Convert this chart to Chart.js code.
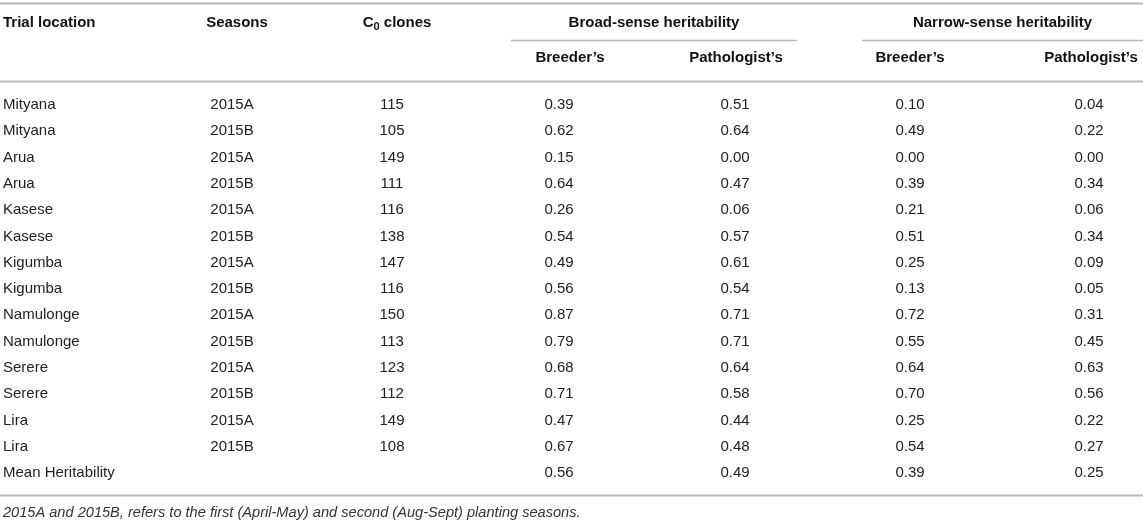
<!DOCTYPE html>
<html>
<head>
<meta charset="utf-8">
<script src="https://cdn.jsdelivr.net/npm/chart.js@4.4.1/dist/chart.umd.min.js"></script>
<style>
    html, body { margin: 0; padding: 0; background: #fff; }
    #box { width: 1143px; height: 522px; position: relative; }
</style>
</head>
<body>
<div id="box"><canvas id="tableChart"></canvas></div>
<script>
// table data
const locations = ['Mityana', 'Mityana', 'Arua', 'Arua', 'Kasese', 'Kasese', 'Kigumba', 'Kigumba',
    'Namulonge', 'Namulonge', 'Serere', 'Serere', 'Lira', 'Lira'];
const seasons = ['2015A', '2015B', '2015A', '2015B', '2015A', '2015B', '2015A', '2015B',
    '2015A', '2015B', '2015A', '2015B', '2015A', '2015B'];
const clones = [115, 105, 149, 111, 116, 138, 147, 116, 150, 113, 123, 112, 149, 108];
const broadBreeder = [0.39, 0.62, 0.15, 0.64, 0.26, 0.54, 0.49, 0.56, 0.87, 0.79, 0.68, 0.71, 0.47, 0.67];
const broadPathologist = [0.51, 0.64, 0.00, 0.47, 0.06, 0.57, 0.61, 0.54, 0.71, 0.71, 0.64, 0.58, 0.44, 0.48];
const narrowBreeder = [0.10, 0.49, 0.00, 0.39, 0.21, 0.51, 0.25, 0.13, 0.72, 0.55, 0.64, 0.70, 0.25, 0.54];
const narrowPathologist = [0.04, 0.22, 0.00, 0.34, 0.06, 0.34, 0.09, 0.05, 0.31, 0.45, 0.63, 0.56, 0.22, 0.27];
const meanLabel = 'Mean Heritability';
const meanHeritability = [0.56, 0.49, 0.39, 0.25];

const headerTop = ['Trial location', 'Seasons', 'C0 clones'];
const groupHeaders = ['Broad-sense heritability', 'Narrow-sense heritability'];
const subHeaders = ['Breeder\u2019s', 'Pathologist\u2019s', 'Breeder\u2019s', 'Pathologist\u2019s'];
const footnote = '2015A and 2015B, refers to the first (April-May) and second (Aug-Sept) planting seasons.';

// layout (x in px along the hidden x scale, y in row units)
const colX = [3, 232, 392, 559, 735, 910, 1089];
const headX = [3, 237, 397, 570, 736, 910, 1091];
const groupSpan = [[511, 797], [862, 1143]];
const yTopLine = -3.88, yHead1 = -3.12, yGroupLine = -2.47, yHead2 = -1.79, yHeadLine = -0.91;
const yBottomLine = 14.83, yNote = 15.52;

const FONT = '"Liberation Sans", Arial, Helvetica, sans-serif';

// every column becomes a dataset of invisible points, one per row
const columns = [
    locations.concat([meanLabel]),
    seasons,
    clones,
    broadBreeder.concat([meanHeritability[0]]),
    broadPathologist.concat([meanHeritability[1]]),
    narrowBreeder.concat([meanHeritability[2]]),
    narrowPathologist.concat([meanHeritability[3]])
];

const datasets = columns.map((col, c) => ({
    label: 'col' + c,
    data: col.map((v, r) => ({ x: colX[c], y: r })),
    cellText: col.map(v => (typeof v === 'number' && c > 2) ? v.toFixed(2) : String(v)),
    pointRadius: 0,
    pointHoverRadius: 0
}));

const tablePlugin = {
    id: 'tablePlugin',
    afterDraw(chart) {
        const ctx = chart.ctx;
        const xs = chart.scales.x, ys = chart.scales.y;
        const X = v => xs.getPixelForValue(v);
        const Y = v => ys.getPixelForValue(v);

        ctx.save();

        // rules
        const hline = (x0, x1, y, w) => {
            ctx.beginPath();
            ctx.strokeStyle = '#b8b8b8';
            ctx.lineWidth = w;
            ctx.moveTo(x0, Math.round(y) + 0.5);
            ctx.lineTo(x1, Math.round(y) + 0.5);
            ctx.stroke();
        };
        hline(X(0), X(1143), Y(yTopLine), 2);
        groupSpan.forEach(s => hline(X(s[0]), X(s[1]), Y(yGroupLine), 1.5));
        hline(X(0), X(1143), Y(yHeadLine), 2);
        hline(X(0), X(1143), Y(yBottomLine), 2);

        // headers
        ctx.fillStyle = '#111';
        ctx.textBaseline = 'middle';
        ctx.font = 'bold 15px ' + FONT;
        ctx.textAlign = 'left';
        ctx.fillText(headerTop[0], X(headX[0]), Y(yHead1));
        ctx.textAlign = 'center';
        ctx.fillText(headerTop[1], X(headX[1]), Y(yHead1));

        // C0 clones with subscript
        const main = 'C', sub = '0', rest = ' clones';
        const wMain = ctx.measureText(main).width;
        const wRest = ctx.measureText(rest).width;
        ctx.font = 'bold 11px ' + FONT;
        const wSub = ctx.measureText(sub).width;
        let sx = X(headX[2]) - (wMain + wSub + wRest) / 2;
        ctx.textAlign = 'left';
        ctx.font = 'bold 15px ' + FONT;
        ctx.fillText(main, sx, Y(yHead1));
        ctx.font = 'bold 11px ' + FONT;
        ctx.fillText(sub, sx + wMain, Y(yHead1) + 4);
        ctx.font = 'bold 15px ' + FONT;
        ctx.fillText(rest, sx + wMain + wSub, Y(yHead1));

        ctx.textAlign = 'center';
        groupSpan.forEach((s, i) => {
            ctx.fillText(groupHeaders[i], X((s[0] + s[1]) / 2), Y(yHead1));
        });
        subHeaders.forEach((t, i) => {
            ctx.fillText(t, X(headX[3 + i]), Y(yHead2));
        });

        // body cells
        ctx.font = '15px ' + FONT;
        ctx.fillStyle = '#222';
        chart.data.datasets.forEach((ds, c) => {
            const meta = chart.getDatasetMeta(c);
            ctx.textAlign = c === 0 ? 'left' : 'center';
            meta.data.forEach((pt, r) => {
                ctx.fillText(ds.cellText[r], pt.x, pt.y);
            });
        });

        // footnote
        ctx.font = 'italic 14.6px ' + FONT;
        ctx.fillStyle = '#333';
        ctx.textAlign = 'left';
        ctx.fillText(footnote, X(colX[0]), Y(yNote));

        ctx.restore();
    }
};

const config = {
    type: 'scatter',
    data: { datasets: datasets },
    options: {
        responsive: true,
        maintainAspectRatio: false,
        animation: false,
        layout: { padding: 0 },
        plugins: {
            legend: { display: false },
            tooltip: { enabled: false }
        },
        events: [],
        scales: {
            x: { type: 'linear', display: false, min: 0, max: 1143 },
            y: { type: 'linear', display: false, reverse: true, min: -3.994, max: 15.86 }
        }
    },
    plugins: [tablePlugin]
};

let ctx = document.getElementById('tableChart').getContext('2d');
var myChart = new Chart(ctx, config);
</script>
</body>
</html>
